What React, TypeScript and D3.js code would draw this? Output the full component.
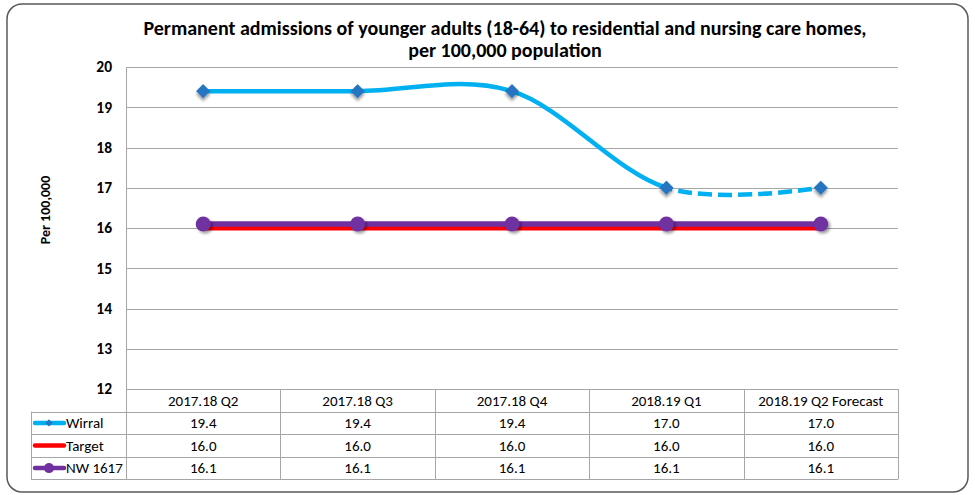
import React, { useEffect, useRef } from 'react';
import * as d3 from 'd3';

const categories = ['2017.18 Q2', '2017.18 Q3', '2017.18 Q4', '2018.19 Q1', '2018.19 Q2 Forecast'];
const wirral = [19.4, 19.4, 19.4, 17.0, 17.0];
const target = [16.0, 16.0, 16.0, 16.0, 16.0];
const nw1617 = [16.1, 16.1, 16.1, 16.1, 16.1];
const yTicks = [12, 13, 14, 15, 16, 17, 18, 19, 20];

const seriesRows = [
  { name: 'Wirral', values: wirral, color: '#00B0F0', marker: 'diamond' },
  { name: 'Target', values: target, color: '#FF0000', marker: 'none' },
  { name: 'NW 1617', values: nw1617, color: '#7030A0', marker: 'circle' },
];

const FONT = "Carlito, 'Liberation Sans Narrow', 'Liberation Sans', Arial, sans-serif";

const App = () => {
  const svgRef = useRef<SVGSVGElement | null>(null);

  useEffect(() => {
    if (!svgRef.current) return;
    const width = 975;
    const height = 495;
    const left = 126;
    const right = 898;
    const top = 67;
    const bottom = 389;
    const rowH = 22.6;
    const tableLeft = 31;

    const svg = d3.select(svgRef.current);
    svg.selectAll('*').remove();
    svg.attr('width', width).attr('height', height);

    const defs = svg.append('defs');
    const f = defs.append('filter').attr('id', 'shadow').attr('x', '-50%').attr('y', '-50%').attr('width', '200%').attr('height', '200%');
    f.append('feDropShadow').attr('dx', 2).attr('dy', 2).attr('stdDeviation', 1.5).attr('flood-color', '#000').attr('flood-opacity', 0.4);

    const x = d3.scaleBand<string>().domain(categories).range([left, right]).paddingInner(0).paddingOuter(0);
    const cx = (c: string) => (x(c) as number) + x.bandwidth() / 2;
    const y = d3.scaleLinear().domain([12, 20]).range([bottom, top]);

    // outer frame
    svg.append('rect')
      .attr('x', 7).attr('y', 4).attr('width', 961).attr('height', 488)
      .attr('rx', 15).attr('ry', 15)
      .attr('fill', '#fff').attr('stroke', '#595959').attr('stroke-width', 1.5);

    // title, two lines
    const titleLines = [
      'Permanent admissions of younger adults (18-64) to residential and nursing care homes,',
      'per 100,000 population',
    ];
    svg.append('g').selectAll('text').data(titleLines).enter().append('text')
      .attr('x', 505).attr('y', (_, i) => 35 + i * 22).attr('text-anchor', 'middle')
      .style('font-family', FONT).style('font-weight', 'bold').style('font-size', '20px').attr('fill', '#000')
      .text(d => d);

    // gridlines
    svg.append('g').selectAll('line').data(yTicks).enter().append('line')
      .attr('x1', left).attr('x2', right)
      .attr('y1', d => Math.round(y(d)) + 0.5).attr('y2', d => Math.round(y(d)) + 0.5)
      .attr('stroke', '#A6A6A6').attr('stroke-width', 1);
    svg.append('line').attr('x1', left + 0.5).attr('x2', left + 0.5).attr('y1', top).attr('y2', bottom)
      .attr('stroke', '#A6A6A6');

    // y tick labels
    svg.append('g').selectAll('text').data(yTicks).enter().append('text')
      .attr('x', 112).attr('y', d => y(d)).attr('dy', '0.35em').attr('text-anchor', 'end')
      .style('font-family', FONT).style('font-weight', 'bold').style('font-size', '15.5px')
      .text(d => d);

    svg.append('text')
      .attr('transform', `translate(50,210) rotate(-90)`)
      .attr('text-anchor', 'middle')
      .style('font-family', FONT).style('font-weight', 'bold').style('font-size', '14px')
      .text('Per 100,000');

    // data table
    const tg = svg.append('g');
    const tableBottom = bottom + rowH * 4;
    const colEdges = categories.map(c => x(c) as number).concat([right]);
    tg.selectAll('line.col').data(colEdges).enter().append('line')
      .attr('x1', d => Math.round(d) + 0.5).attr('x2', d => Math.round(d) + 0.5)
      .attr('y1', bottom).attr('y2', tableBottom)
      .attr('stroke', '#A6A6A6');
    tg.append('line').attr('x1', tableLeft + 0.5).attr('x2', tableLeft + 0.5)
      .attr('y1', bottom + rowH).attr('y2', tableBottom).attr('stroke', '#A6A6A6');
    [1, 2, 3, 4].forEach(i => {
      const yy = Math.round(bottom + rowH * i) + 0.5;
      tg.append('line').attr('x1', tableLeft).attr('x2', right)
        .attr('y1', yy).attr('y2', yy).attr('stroke', '#A6A6A6');
    });
    tg.selectAll('text.head').data(categories).enter().append('text')
      .attr('x', d => cx(d)).attr('y', bottom + rowH / 2).attr('dy', '0.35em').attr('text-anchor', 'middle')
      .style('font-family', FONT).style('font-size', '15px').text(d => d);

    seriesRows.forEach((s, i) => {
      const ry = bottom + rowH * (i + 1) + rowH / 2;
      tg.selectAll(null).data(s.values).enter().append('text')
        .attr('x', (_, j) => cx(categories[j])).attr('y', ry).attr('dy', '0.35em').attr('text-anchor', 'middle')
        .style('font-family', FONT).style('font-size', '15px').text(d => d.toFixed(1));
      tg.append('line').attr('x1', 35).attr('x2', 64).attr('y1', ry).attr('y2', ry)
        .attr('stroke', s.color).attr('stroke-width', 4.5).attr('stroke-linecap', 'round');
      if (s.marker === 'diamond') {
        tg.append('path').attr('d', d3.symbol(d3.symbolSquare, 26)()!)
          .attr('transform', `translate(49,${ry}) rotate(45)`).attr('fill', '#2874C0');
      } else if (s.marker === 'circle') {
        tg.append('circle').attr('cx', 49).attr('cy', ry).attr('r', 5).attr('fill', '#7030A0');
      }
      tg.append('text').attr('x', 66).attr('y', ry).attr('dy', '0.35em')
        .style('font-family', FONT).style('font-size', '15px').text(s.name);
    });

    const pts = (vals: number[]) => vals.map((v, j) => [cx(categories[j]), y(v)] as [number, number]);

    // target
    svg.append('path').attr('d', d3.line()(pts(target))!)
      .attr('fill', 'none').attr('stroke', '#FF0000').attr('stroke-width', 5);
    // NW
    svg.append('path').attr('d', d3.line()(pts(nw1617))!)
      .attr('fill', 'none').attr('stroke', '#7030A0').attr('stroke-width', 5.5);
    svg.append('g').selectAll('circle').data(pts(nw1617)).enter().append('circle')
      .attr('cx', d => d[0]).attr('cy', d => d[1]).attr('r', 7.5)
      .attr('fill', '#7030A0').attr('filter', 'url(#shadow)');

    // wirral smooth, solid to Q1, dashed for forecast
    const curveLine = d3.line().curve(d3.curveCardinal.tension(0));
    const wp = pts(wirral);
    const splitX = cx(categories[3]);
    defs.append('clipPath').attr('id', 'solidClip')
      .append('rect').attr('x', 0).attr('y', 0).attr('width', splitX).attr('height', height);
    defs.append('clipPath').attr('id', 'dashClip')
      .append('rect').attr('x', splitX).attr('y', 0).attr('width', width - splitX).attr('height', height);
    svg.append('path').attr('d', curveLine(wp)!).attr('clip-path', 'url(#solidClip)')
      .attr('fill', 'none').attr('stroke', '#00B0F0').attr('stroke-width', 4.5);
    svg.append('path').attr('d', curveLine(wp.slice(2))!).attr('clip-path', 'url(#dashClip)')
      .attr('fill', 'none').attr('stroke', '#00B0F0').attr('stroke-width', 4.5)
      .attr('stroke-dasharray', '14,6').attr('stroke-dashoffset', -175);
    svg.append('g').selectAll('path').data(wp).enter().append('path')
      .attr('d', d3.symbol(d3.symbolSquare, 100)()!)
      .attr('transform', d => `translate(${d[0]},${d[1]}) rotate(45)`)
      .attr('fill', '#2874C0').attr('filter', 'url(#shadow)');
  }, []);

  return (
    <svg ref={svgRef} style={{ position: 'absolute', left: 0, top: 0, display: 'block' }}></svg>
  );
};

export default App;
